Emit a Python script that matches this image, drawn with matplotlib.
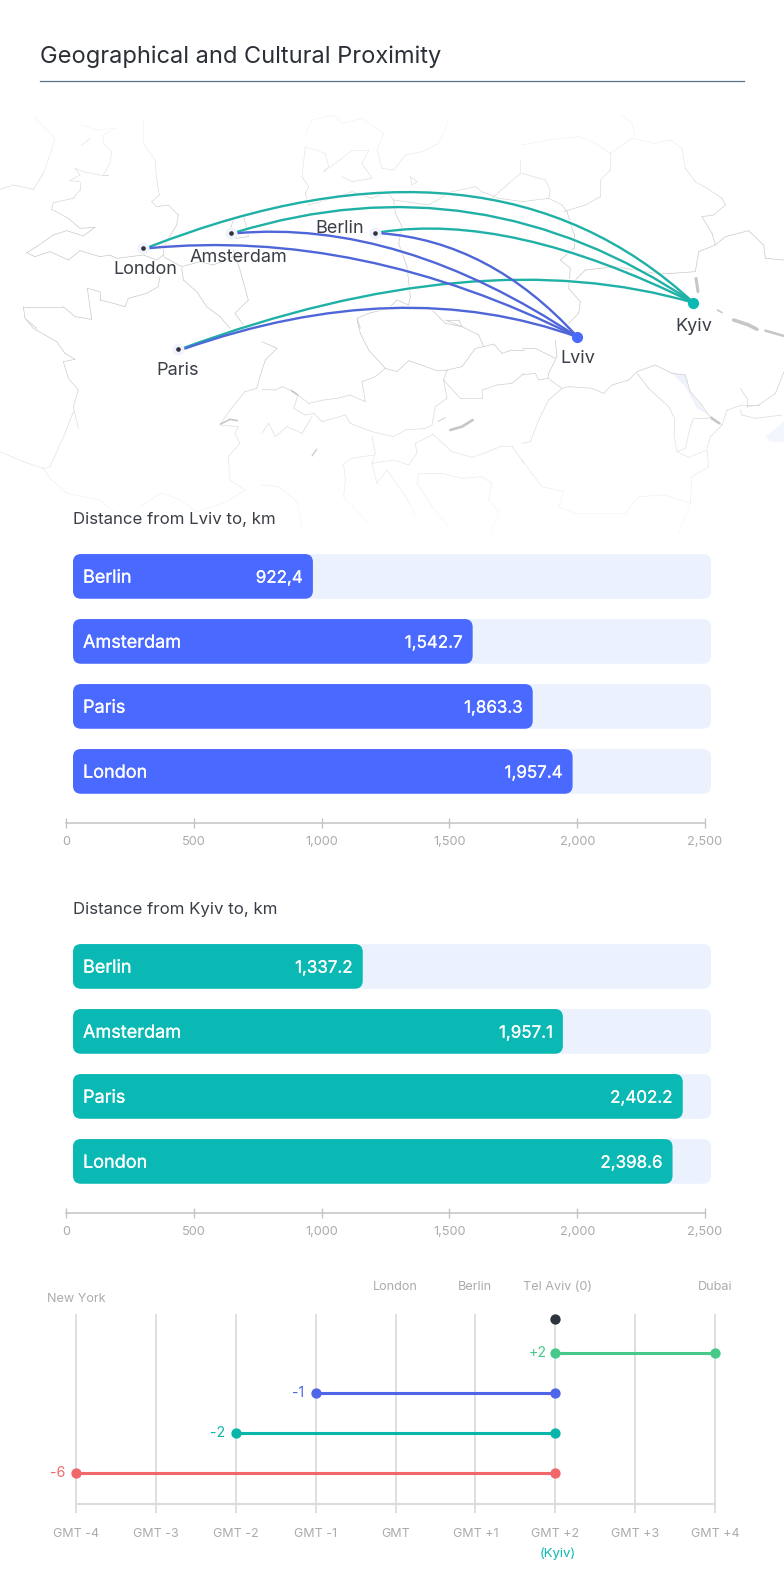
import matplotlib

matplotlib.use("Agg")
import matplotlib.patheffects as pe
import matplotlib.pyplot as plt
import numpy as np
from matplotlib.collections import LineCollection
from matplotlib.lines import Line2D
from matplotlib.patches import FancyBboxPatch, PathPatch, Polygon
from matplotlib.path import Path

W, H = 784, 1593
FONT = "Inter"

BLUE = "#4a69ff"
TEAL = "#0ab9b3"
ARC_BLUE = "#4f66d8"
ARC_TEAL = "#1fb0a6"
DARK = "#2f333d"
TICK_GREY = "#ababab"
TRACK = "#ebf2fe"

plt.rcParams["font.family"] = [FONT, "DejaVu Sans"]

# bar charts
bar_cities = ["Berlin", "Amsterdam", "Paris", "London"]
lviv_labels = ["922,4", "1,542.7", "1,863.3", "1,957.4"]
lviv_bar_ends = [966, 1591, 1826, 1982]
kyiv_labels = ["1,337.2", "1,957.1", "2,402.2", "2,398.6"]
kyiv_bar_ends = [1161, 1944, 2413, 2373]
km_ticks = [0, 500, 1000, 1500, 2000, 2500]

# time zones
gmt_hours = [-4, -3, -2, -1, 0, 1, 2, 3, 4]
gmt_labels = ["GMT -4", "GMT -3", "GMT -2", "GMT -1", "GMT", "GMT +1", "GMT +2", "GMT +3", "GMT +4"]
span_ends = [4, -1, -2, -4]
span_labels = ["+2", "-1", "-2", "-6"]
span_colors = ["#47c98a", "#4f66e8", "#0ab5aa", "#f0686a"]
kyiv_hour = 2
tz_cities = ["New York", "London", "Berlin", "Tel Aviv (0)", "Dubai"]
tz_city_hours = [-4, 0, 1, 2, 4]

# map, in picture pixels
cities = ["London", "Amsterdam", "Berlin", "Paris"]
city_x = [143.5, 231, 375, 178]
city_y = [247.7, 232.7, 232.7, 348.7]
lviv_xy = (577.5, 337)
kyiv_xy = (693.5, 302.7)
# control point of each arc: to Kyiv, to Lviv
kyiv_ctrl = [(490, 114), (479, 158), (510, 212), (477, 240)]
lviv_ctrl = [(360, 228), (400, 219), (490, 241), (400, 273)]

# country outlines, three times enlarged, per crop corner
borders_a = [
    [(430, 30), (430, 100), (465, 150), (470, 205), (478, 255), (455, 275), (470, 290), (505, 285), (535, 315),
     (530, 345), (505, 385), (490, 420), (490, 435), (470, 450), (430, 435), (350, 445), (330, 435), (300, 440),
     (240, 422), (205, 450), (150, 425), (105, 440), (80, 428), (110, 410), (160, 375), (200, 362), (250, 378),
     (285, 352), (240, 355), (205, 325), (155, 298), (160, 278), (220, 265), (240, 240), (240, 215), (210, 212),
     (240, 195), (225, 175), (250, 185), (300, 195), (325, 195), (310, 195), (330, 160), (335, 125), (310, 100),
     (310, 75), (345, 55)],
    [(0, 238), (40, 225), (100, 238), (130, 190), (155, 120), (165, 85), (140, 60), (100, 20)],
    [(245, 105), (270, 85), (262, 95), (245, 105)],
    [(245, 45), (290, 60), (345, 55)],
    [(480, 500), (475, 530), (440, 550), (385, 565), (375, 590), (340, 580), (300, 570), (300, 545), (262, 535),
     (275, 628), (225, 620), (190, 590), (150, 590), (110, 590), (70, 590), (75, 625), (110, 655)],
    [(545, 475), (550, 510), (590, 545), (620, 590), (660, 620), (690, 655)],
    [(490, 440), (545, 470), (600, 455), (640, 465), (700, 440)],
    [(700, 330), (690, 360), (710, 385), (745, 380), (740, 350), (730, 320), (780, 305)],
    [(700, 420), (720, 480), (745, 570), (705, 610), (730, 645)],
]
borders_b = [
    [(130, 70), (150, 30), (215, 15), (240, 40), (300, 25), (365, 70), (345, 120), (360, 175), (395, 180),
     (430, 135), (480, 125), (530, 100), (560, 30)],
    [(120, 200), (130, 110), (190, 130), (200, 170), (185, 185), (240, 145), (270, 120), (320, 120), (300, 160),
     (330, 205), (270, 215), (240, 200)],
    [(120, 200), (140, 230), (130, 250), (140, 285), (210, 265), (270, 245), (330, 265), (375, 245), (395, 270),
     (400, 310), (420, 350), (410, 400), (435, 470), (445, 560), (440, 585), (405, 570), (380, 595), (320, 610),
     (285, 625), (295, 655)],
    [(395, 270), (500, 285), (570, 245), (640, 230), (660, 245)],
    [(690, 265), (740, 220), (775, 190), (775, 150)],
    [(660, 245), (710, 265), (786, 275)],
    [(445, 200), (465, 215), (450, 225), (445, 200)],
    [(500, 590), (550, 640), (600, 650), (590, 630), (555, 630)],
]
borders_c = [
    [(0, 190), (70, 210), (85, 240), (80, 265), (0, 275)],
    [(80, 265), (120, 285), (135, 305), (155, 370), (155, 415), (115, 450), (145, 475), (140, 535), (175, 575),
     (170, 610), (140, 640)],
    [(0, 105), (80, 90), (170, 80), (220, 100), (265, 130), (265, 180), (235, 210), (235, 260), (190, 285), (125, 305)],
    [(265, 130), (330, 85), (400, 100), (445, 90), (480, 115), (490, 175), (520, 215), (555, 235), (600, 265),
     (610, 285), (575, 315), (540, 320), (570, 370), (580, 405), (530, 425), (520, 485), (450, 490), (400, 490),
     (340, 480), (280, 470), (190, 480), (160, 510)],
    [(580, 405), (610, 380), (680, 362), (725, 405), (730, 445), (785, 450)],
    [(340, 80), (330, 40), (300, 15)],
]
borders_d = [
    [(80, 0), (100, 25), (135, 45), (170, 65), (195, 100), (225, 118), (190, 125), (205, 175), (235, 210),
     (220, 260), (235, 325)],
    [(220, 275), (195, 340), (150, 440), (130, 445), (70, 425), (0, 395)],
    [(130, 445), (150, 475), (200, 520), (300, 540), (340, 575)],
    [(420, 560), (485, 518), (540, 540), (590, 575), (680, 545), (735, 510), (690, 480), (685, 410), (720, 370),
     (705, 340), (715, 320), (660, 315), (690, 270), (735, 215), (770, 205), (786, 150)],
]
borders_e = [
    [(0, 65), (45, 85), (10, 120), (0, 150)],
    [(0, 208), (40, 210), (60, 200), (95, 215), (108, 225), (95, 265), (130, 285), (155, 280), (180, 305),
     (250, 285), (265, 310), (330, 335), (395, 350), (430, 330), (490, 325), (510, 315), (520, 260), (555, 235),
     (545, 180), (555, 150), (600, 140), (640, 85), (665, 80), (650, 45), (600, 20), (550, 0)],
    [(108, 225), (140, 250), (185, 240), (225, 235), (265, 225), (310, 245), (300, 185), (340, 170), (370, 145),
     (405, 155), (440, 122), (520, 150), (555, 150)],
    [(370, 145), (320, 90), (295, 40), (285, 0)],
    [(545, 180), (595, 235), (660, 235), (660, 210), (705, 195), (750, 190), (786, 160)],
    [(665, 80), (695, 72), (720, 100), (750, 90), (786, 90)],
    [(510, 340), (570, 395), (630, 412), (665, 400), (720, 378), (750, 378), (786, 430)],
    [(330, 350), (340, 400), (330, 430), (345, 490), (375, 450), (400, 485), (440, 545), (460, 590)],
    [(330, 430), (395, 420), (440, 435), (465, 400), (460, 370), (510, 345)],
    [(240, 435), (270, 415), (335, 405)],
    [(245, 435), (250, 480), (245, 530), (320, 610)],
    [(470, 460), (465, 490), (510, 560), (560, 620)],
    [(470, 460), (510, 460), (540, 460), (600, 475), (660, 470), (690, 490), (680, 540), (710, 575), (685, 640)],
    [(0, 340), (20, 310), (40, 350), (75, 320), (120, 340), (150, 290)],
    [(0, 495), (50, 500), (105, 545), (120, 620)],
]
borders_f = [
    [(100, 60), (105, 110), (80, 160), (78, 175), (120, 205)],
    [(0, 85), (40, 85), (100, 115)],
    [(0, 165), (40, 160), (50, 180), (78, 175)],
    [(120, 205), (140, 200), (210, 205), (245, 220), (270, 195), (320, 180), (345, 155), (400, 135), (450, 160),
     (490, 165), (505, 215), (540, 255), (560, 285), (600, 315)],
    [(345, 160), (380, 205), (440, 260), (455, 290), (455, 340), (465, 395), (500, 412), (555, 390), (560, 440),
     (510, 470), (505, 550), (430, 525), (350, 530), (310, 580), (160, 580), (110, 560), (125, 515), (60, 500),
     (0, 420)],
    [(120, 205), (80, 240), (50, 300), (25, 365), (0, 370)],
    [(600, 315), (565, 350), (555, 385)],
    [(465, 395), (490, 385), (505, 320), (515, 295), (555, 295), (570, 290)],
    [(600, 315), (615, 270), (660, 255), (710, 255), (760, 220), (786, 155)],
    [(655, 205), (675, 235), (675, 260), (710, 255)],
    [(655, 270), (660, 285), (700, 295), (780, 285)],
    [(505, 550), (470, 640)],
]
border_crops = [
    ((0, 110), borders_a),
    ((262, 110), borders_b),
    ((522, 110), borders_c),
    ((0, 320), borders_d),
    ((262, 320), borders_e),
    ((522, 320), borders_f),
]
# lakes and reservoirs, (crop corner, points, width in px)
water = [
    ((522, 110), [(522, 505), (528, 545)], 3),
    ((522, 110), [(586, 600), (600, 608)], 1.6),
    ((522, 320), [(635, 0), (680, 15), (705, 28)], 3.5),
    ((522, 320), [(730, 32), (786, 48)], 2.5),
    ((522, 320), [(568, 294), (592, 310)], 2.5),
    ((262, 320), [(565, 330), (600, 320), (632, 300)], 2.6),
    ((262, 320), [(528, 304), (550, 293)], 0.8),
    ((262, 320), [(88, 212), (106, 224)], 1.6),
    ((262, 320), [(150, 408), (164, 388)], 1.2),
    ((0, 320), [(662, 312), (690, 298), (712, 302)], 1.6),
]
river_poly = [(450, 160), (490, 165), (505, 215), (560, 285), (525, 265), (490, 200)]
sea_poly = [(730, 350), (786, 305), (786, 365), (745, 365)]


def px_axes(fig, left, top, right, bottom):
    return fig.add_axes([left / W, 1 - bottom / H, (right - left) / W, (bottom - top) / H])


def crop_to_px(corner, points):
    pts = np.array(points, dtype=float) / 3
    pts[:, 0] += corner[0]
    pts[:, 1] += corner[1]
    return pts


def map_fade(y):
    # map dissolves into white towards the bottom, a little towards the top
    top = np.clip((y - 110) / 120, 0.2, 1)
    bottom = np.clip((545 - y) / 190, 0.08, 1)
    return top * bottom


def draw_map(ax):
    segments, colors = [], []
    for corner, lines in border_crops:
        for line in lines:
            pts = crop_to_px(corner, line)
            for a, b in zip(pts[:-1], pts[1:]):
                segments.append([a, b])
                colors.append((0.79, 0.79, 0.79, float(map_fade((a[1] + b[1]) / 2))))
    ax.add_collection(LineCollection(segments, colors=colors, linewidths=0.5, capstyle="round", zorder=1))
    for corner, pts, width in water:
        xy = crop_to_px(corner, pts)
        ax.plot(xy[:, 0], xy[:, 1], color="#c6c6c6", lw=width * 0.72, solid_capstyle="round", zorder=1)
    ax.add_patch(Polygon(crop_to_px((522, 320), river_poly), fc="#eef3fb", ec="none", zorder=0))
    ax.add_patch(Polygon(crop_to_px((522, 320), sea_poly), fc="#f3f6fd", ec="none", zorder=0))


def draw_arc(ax, start, ctrl, end, color):
    path = Path([start, ctrl, end], [Path.MOVETO, Path.CURVE3, Path.CURVE3])
    ax.add_patch(PathPatch(path, fc="none", ec="white", lw=3.4, alpha=0.6, zorder=2))
    ax.add_patch(PathPatch(path, fc="none", ec=color, lw=1.7, zorder=3))


def draw_route_map(fig):
    ax = px_axes(fig, 0, 100, W, 545)
    ax.set_xlim(0, W)
    ax.set_ylim(545, 100)
    ax.axis("off")
    draw_map(ax)
    for i, (x, y) in enumerate(zip(city_x, city_y)):
        draw_arc(ax, (x + 5, y - 0.5), kyiv_ctrl[i], kyiv_xy, ARC_TEAL)
    for i, (x, y) in enumerate(zip(city_x, city_y)):
        draw_arc(ax, (x + 5, y + 0.5), lviv_ctrl[i], lviv_xy, ARC_BLUE)
    ax.scatter(city_x, city_y, s=75, color="#f0f3fc", zorder=4, linewidths=0)
    ax.scatter(city_x, city_y, s=11, color=DARK, zorder=5, linewidths=0)
    ax.scatter(*lviv_xy, s=65, color=BLUE, zorder=5, linewidths=0)
    ax.scatter(*kyiv_xy, s=65, color=TEAL, zorder=5, linewidths=0)
    label_xy = {
        "London": (145, 270),
        "Amsterdam": (238, 257.5),
        "Berlin": (340, 228.5),
        "Paris": (177.5, 370.5),
        "Lviv": (578, 358.5),
        "Kyiv": (694, 326.5),
    }
    for name, (x, y) in label_xy.items():
        ax.text(x, y, name, ha="center", va="center", fontsize=13, color="#3a3e46", zorder=6)


def draw_distance_chart(fig, offset, title, labels, ends, color):
    # x axis runs 0-2,500 over px 66-705, one row is 65 px
    top, axis_y = 544 + offset, 822.7 + offset
    row0 = 576.4 + offset
    ax = px_axes(fig, 66, top, 705, axis_y)
    ax.set_xlim(0, 2500)
    ax.set_ylim((axis_y - row0) / 65, (top - row0) / 65)
    ax.patch.set_alpha(0)
    km_per_px = 2500 / 639
    bar_start = 7 * km_per_px
    track_end = 645 * km_per_px
    height = 44.7 / 65
    radius = 8 * km_per_px
    aspect = (8 / 65) / radius
    heavier = [pe.withStroke(linewidth=0.15, foreground="white")]
    text_dy = 1.8 / 65
    for i, city in enumerate(bar_cities):
        for end, fc, z in ((track_end, TRACK, 1), (ends[i], color, 2)):
            ax.add_patch(
                FancyBboxPatch(
                    (bar_start, i - height / 2),
                    end - bar_start,
                    height,
                    boxstyle=f"round,pad=0,rounding_size={radius}",
                    mutation_aspect=aspect,
                    fc=fc,
                    ec="none",
                    clip_on=False,
                    zorder=z,
                )
            )
        ax.text(bar_start + 10 * km_per_px, i + text_dy, city, va="center", ha="left", color="white",
                fontsize=13, path_effects=heavier, zorder=3)
        ax.text(ends[i] - 10 * km_per_px, i + text_dy, labels[i], va="center", ha="right", color="white",
                fontsize=12.2, path_effects=heavier, zorder=3)
    for side in ("top", "left", "right"):
        ax.spines[side].set_visible(False)
    ax.spines["bottom"].set_color("#c4c4c4")
    ax.spines["bottom"].set_linewidth(1.1)
    ax.set_yticks([])
    ax.set_xticks(km_ticks)
    ax.set_xticklabels([f"{t:,}" for t in km_ticks])
    ax.tick_params(axis="x", direction="inout", length=6.5, width=1, color="#c4c4c4",
                   labelcolor=TICK_GREY, labelsize=9.2, pad=6)
    fig.text(73 / W, 1 - (519.5 + offset) / H, title, fontsize=12.15, color="#3a3e46", va="center", ha="left")


def draw_time_chart(fig):
    top, bottom = 1314, 1513
    ax = px_axes(fig, 76, top, 715, bottom)
    ax.set_xlim(-4, 4)
    ax.set_ylim(bottom, top)
    ax.patch.set_alpha(0)
    for side in ax.spines:
        ax.spines[side].set_visible(False)
    ax.vlines(gmt_hours, top, bottom, color="#d9d9d9", lw=1.2, zorder=1, clip_on=False)
    ax.hlines(1503.7, -4, 4, color="#dcdcdc", lw=1.5, zorder=1)
    ax.set_yticks([])
    ax.set_xticks(gmt_hours)
    ax.set_xticklabels(gmt_labels)
    ax.tick_params(axis="x", length=0, labelcolor=TICK_GREY, labelsize=9, pad=10.5)
    row_y = [1352.7, 1393, 1433, 1472.7]
    ax.scatter([kyiv_hour], [1319], s=55, color=DARK, zorder=4, linewidths=0, clip_on=False)
    for y, end, label, color in zip(row_y, span_ends, span_labels, span_colors):
        ax.plot([end, kyiv_hour], [y, y], color=color, lw=2.2, zorder=3, solid_capstyle="butt")
        ax.scatter([end, kyiv_hour], [y, y], s=55, color=color, zorder=4, linewidths=0, clip_on=False)
        label_x = min(end, kyiv_hour) - 18 / 80
        ax.text(label_x, y, label, color=color, fontsize=10.2, va="center", ha="center", clip_on=False)
    for name, hour in zip(tz_cities, tz_city_hours):
        y = 1298.5 if hour == -4 else 1287.5
        dx = 2 / 80 if name.startswith("Tel") else 0
        ax.text(hour + dx, y, name, color=TICK_GREY, fontsize=9.1, ha="center", va="center", clip_on=False)
    ax.text(kyiv_hour + 3 / 80, 1554, "(Kyiv)", color=TEAL, fontsize=9.5, ha="center", va="center", clip_on=False)


fig = plt.figure(figsize=(W / 100, H / 100), dpi=100, facecolor="white")

fig.text(40 / W, 1 - 56.5 / H, "Geographical and Cultural Proximity", fontsize=17, color="#2b2f38",
         va="center", ha="left")
fig.add_artist(Line2D([40 / W, 744 / W], [1 - 81 / H, 1 - 81 / H], color="#5d7385", lw=0.9))

draw_route_map(fig)
draw_distance_chart(fig, 0, "Distance from Lviv to, km", lviv_labels, lviv_bar_ends, BLUE)
draw_distance_chart(fig, 390, "Distance from Kyiv to, km", kyiv_labels, kyiv_bar_ends, TEAL)
draw_time_chart(fig)

fig.savefig("out.png", dpi=100)
